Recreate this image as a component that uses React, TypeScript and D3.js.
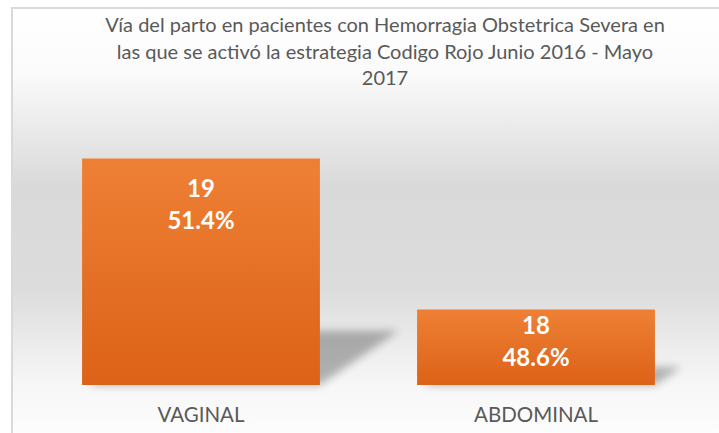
import React from "react";
import * as d3 from "d3";

const categories = ["VAGINAL", "ABDOMINAL"];
const counts = [19, 18];
const titleLines = [
  "Vía del parto en pacientes con Hemorragia Obstetrica Severa en",
  "las que se activó la estrategia Codigo Rojo Junio 2016 - Mayo",
  "2017",
];
const yDomain = [17.5, 19.5];

const W = 719;
const H = 433;
const FONT = "Lato, 'Open Sans', sans-serif";

export default function App() {
  const total = d3.sum(counts);
  const x = d3
    .scaleBand<string>()
    .domain(categories)
    .range([33.5, 703.5])
    .paddingInner(0.29)
    .paddingOuter(0.145);
  const y = d3.scaleLinear().domain(yDomain).range([385, 83]);
  const base = y(yDomain[0]);
  const fmt = d3.format(".1%");

  return (
    <svg
      width={W}
      height={H}
      style={{ position: "absolute", left: 0, top: 0, display: "block" }}
      fontFamily={FONT}
    >
      <defs>
        <linearGradient id="bg" x1="0" y1="8" x2="0" y2="433" gradientUnits="userSpaceOnUse">
          <stop offset="0" stopColor="#ffffff" />
          <stop offset="0.15" stopColor="#fbfbfb" />
          <stop offset="0.42" stopColor="#d9d9d9" />
          <stop offset="0.66" stopColor="#dcdcdc" />
          <stop offset="0.88" stopColor="#f6f6f6" />
          <stop offset="1" stopColor="#fdfdfd" />
        </linearGradient>
        <linearGradient id="bar" x1="0" y1="0" x2="0" y2="1">
          <stop offset="0" stopColor="#ee8035" />
          <stop offset="1" stopColor="#dc6217" />
        </linearGradient>
        <filter id="blur" x="-20%" y="-50%" width="140%" height="200%">
          <feGaussianBlur stdDeviation="4" />
        </filter>
      </defs>
      <rect x={0} y={0} width={W} height={H} fill="#ffffff" />
      <rect x={12} y={8} width={W} height={H} fill="url(#bg)" stroke="#d9d9d9" strokeWidth={2} />

      {titleLines.map((t, i) => (
        <text
          key={i}
          x={385}
          y={32 + i * 26.5}
          textAnchor="middle"
          fontSize={20}
          fill="#595959"
        >
          {t}
        </text>
      ))}

      {categories.map((c, i) => {
        const x0 = x(c)!;
        const bw = x.bandwidth();
        const top = y(counts[i]);
        const h = base - top;
        const sh = h * 0.24;
        const shift = sh * 1.45;
        const pts = [
          [x0 + 6, base],
          [x0 + bw, base],
          [x0 + bw + shift, base - sh],
          [x0 + shift + 6, base - sh],
        ]
          .map((p) => p.join(","))
          .join(" ");
        return (
          <polygon key={"s" + c} points={pts} fill="#000" opacity={0.28} filter="url(#blur)" />
        );
      })}

      {categories.map((c, i) => {
        const x0 = x(c)!;
        const bw = x.bandwidth();
        const top = y(counts[i]);
        const cx = x0 + bw / 2;
        const firstBase = Math.min(top + 38, base - 51);
        return (
          <g key={c}>
            <rect x={x0} y={top} width={bw} height={base - top} fill="url(#bar)" />
            <text x={cx} y={firstBase} textAnchor="middle" fontSize={24} fontWeight="bold" fill="#ffffff">
              {counts[i]}
            </text>
            <text x={cx} y={firstBase + 32} textAnchor="middle" fontSize={24} fontWeight="bold" fill="#ffffff">
              {fmt(counts[i] / total)}
            </text>
            <text x={cx} y={422} textAnchor="middle" fontSize={20.5} fill="#595959">
              {c}
            </text>
          </g>
        );
      })}
    </svg>
  );
}
